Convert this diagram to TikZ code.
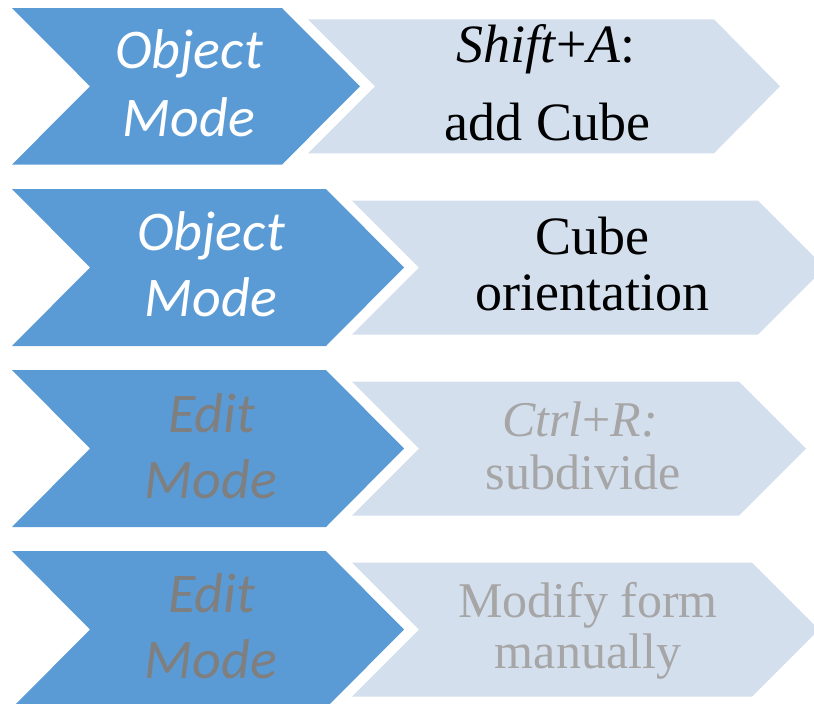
\documentclass[tikz,border=0pt]{standalone}
\usepackage{fontspec}
\setmainfont{Liberation Serif}
\newfontfamily\timesf{Liberation Serif}
\newfontfamily\calib{Carlito}
\definecolor{darkblue}{HTML}{5B9BD5}
\definecolor{lightblue}{HTML}{D4DFEE}
\definecolor{modegray}{HTML}{7F7F7F}
\definecolor{textgray}{HTML}{A6A6A6}
\begin{document}
\begin{tikzpicture}[x=1pt,y=-1pt,
  darkchev/.style={fill=darkblue,draw=none},
  lightchev/.style={fill=lightblue,draw=none},
  modetxt/.style={inner sep=0pt,anchor=base,font=\calib\itshape\fontsize{56}{60}\selectfont},
  stepbig/.style={inner sep=0pt,anchor=base,text=black,font=\timesf\upshape\fontsize{54}{60}\selectfont},
  stepsmall/.style={inner sep=0pt,anchor=base,text=textgray,font=\timesf\upshape\fontsize{50}{56}\selectfont}]
\useasboundingbox (0,0) rectangle (814,704);
\clip (0,0) rectangle (814,704);
% light chevrons
\fill[lightchev] (308,19.3)--(714,19.3)--(780,86.3)--(714,153.3)--(308,153.3)--(375,86.3)--cycle;
\fill[lightchev] (352,200.7)--(758,200.7)--(825,267.7)--(758,334.7)--(352,334.7)--(419,267.7)--cycle;
\fill[lightchev] (352,381.7)--(739,381.7)--(806,448.7)--(739,515.7)--(352,515.7)--(419,448.7)--cycle;
\fill[lightchev] (352,562.7)--(752,562.7)--(819,629.7)--(752,696.7)--(352,696.7)--(419,629.7)--cycle;
% dark chevrons
\fill[darkchev] (12,8)--(282,8)--(360,86.3)--(282,164.6)--(12,164.6)--(90,86.3)--cycle;
\fill[darkchev] (12,189)--(326,189)--(404,267.5)--(326,346)--(12,346)--(90,267.5)--cycle;
\fill[darkchev] (12,370)--(326,370)--(404,448.5)--(326,527)--(12,527)--(90,448.5)--cycle;
\fill[darkchev] (12,551)--(326,551)--(404,629.5)--(326,708)--(12,708)--(90,629.5)--cycle;
% row 1
\node[modetxt,text=white] (m1a) at (189,68) {Object};
\node[modetxt,text=white] (m1b) at (189,136) {Mode};
\node[stepbig] (s1a) at (546,62) {\textit{Shift}+\textit{A}:};
\node[stepbig] (s1b) at (547.5,140) {add Cube};
% row 2
\node[modetxt,text=white] (m2a) at (211,250.7) {Object};
\node[modetxt,text=white] (m2b) at (211,316.7) {Mode};
\node[stepbig] (s2a) at (592,254) {Cube};
\node[stepbig] (s2b) at (592.5,310.7) {orientation};
% row 3
\node[modetxt,text=modegray] (m3a) at (211.5,432.7) {Edit};
\node[modetxt,text=modegray] (m3b) at (211,498) {Mode};
\node[stepsmall] (s3a) at (580,436) {\textit{Ctrl}+\textit{R:}};
\node[stepsmall] (s3b) at (583,489.3) {subdivide};
% row 4
\node[modetxt,text=modegray] (m4a) at (211.5,612.7) {Edit};
\node[modetxt,text=modegray] (m4b) at (211,678.3) {Mode};
\node[stepsmall] (s4a) at (588,617.3) {Modify form};
\node[stepsmall] (s4b) at (588,668.3) {manually};
\end{tikzpicture}
\end{document}
